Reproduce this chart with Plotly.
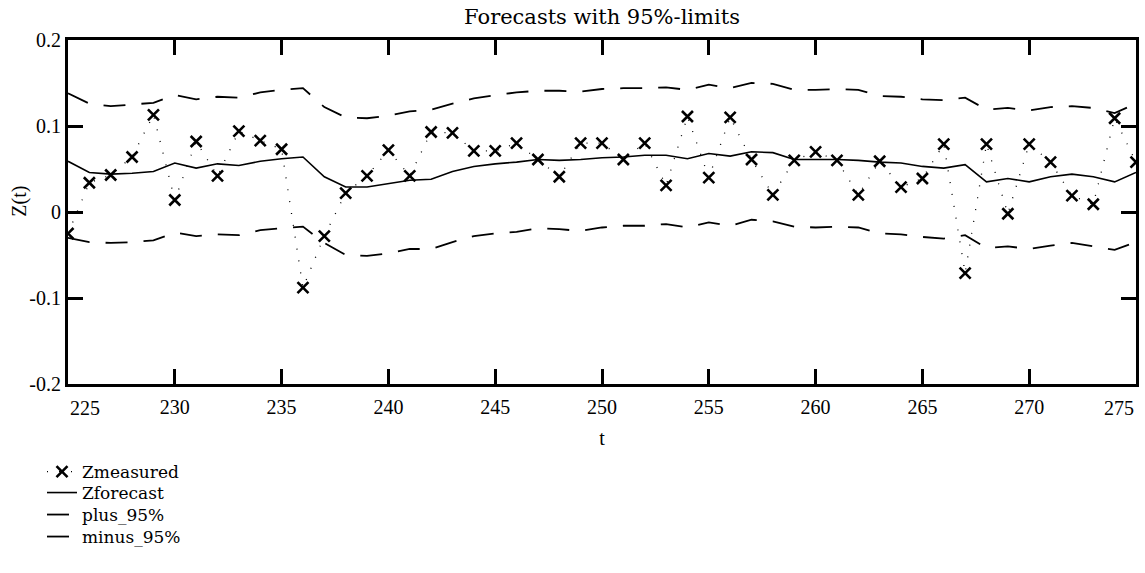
import plotly.graph_objects as go

# time index
t = list(range(225, 276))

z_measured = [
    -0.025, 0.034, 0.043, 0.064, 0.113, 0.014, 0.082, 0.042, 0.094, 0.083,
    0.073, -0.088, -0.028, 0.022, 0.042, 0.072, 0.042, 0.093, 0.092, 0.071,
    0.071, 0.080, 0.061, 0.041, 0.080, 0.080, 0.061, 0.080, 0.031, 0.111,
    0.040, 0.110, 0.061, 0.020, 0.060, 0.070, 0.060, 0.020, 0.059, 0.029,
    0.039, 0.079, -0.071, 0.079, -0.002, 0.079, 0.058, 0.019, 0.009, 0.109,
    0.058,
]

z_forecast = [
    0.059, 0.046, 0.044, 0.045, 0.047, 0.057, 0.051, 0.056, 0.054, 0.059,
    0.062, 0.064, 0.041, 0.029, 0.029, 0.033, 0.037, 0.038, 0.047, 0.053,
    0.056, 0.058, 0.061, 0.060, 0.061, 0.063, 0.064, 0.066, 0.066, 0.062,
    0.068, 0.065, 0.070, 0.069, 0.061, 0.061, 0.061, 0.060, 0.058, 0.057,
    0.053, 0.051, 0.055, 0.035, 0.039, 0.035, 0.041, 0.044, 0.041, 0.035,
    0.046,
]

plus_95 = [
    0.138, 0.126, 0.123, 0.125, 0.127, 0.136, 0.131, 0.134, 0.133, 0.139,
    0.142, 0.144, 0.122, 0.110, 0.109, 0.112, 0.117, 0.119, 0.126, 0.132,
    0.136, 0.139, 0.141, 0.141, 0.140, 0.143, 0.144, 0.144, 0.145, 0.142,
    0.148, 0.144, 0.150, 0.149, 0.142, 0.142, 0.143, 0.142, 0.135, 0.134,
    0.131, 0.130, 0.133, 0.119, 0.121, 0.118, 0.122, 0.123, 0.121, 0.115,
    0.126,
]

minus_95 = [
    -0.030, -0.035, -0.036, -0.035, -0.033, -0.024, -0.028, -0.026, -0.027, -0.021,
    -0.019, -0.017, -0.036, -0.050, -0.051, -0.048, -0.043, -0.043, -0.035, -0.028,
    -0.025, -0.023, -0.019, -0.020, -0.022, -0.018, -0.016, -0.016, -0.014, -0.018,
    -0.012, -0.016, -0.009, -0.011, -0.017, -0.018, -0.017, -0.018, -0.025, -0.026,
    -0.029, -0.031, -0.027, -0.042, -0.040, -0.043, -0.039, -0.036, -0.040, -0.044,
    -0.035,
]

x_ticks = [225, 230, 235, 240, 245, 250, 255, 260, 265, 270, 275]
y_ticks = [-0.2, -0.1, 0, 0.1, 0.2]
y_tick_text = ["-0.2", "-0.1", "0", "0.1", "0.2"]

W, H = 1145, 573
serif = "'Liberation Serif', 'Times New Roman', Times, serif"
wide = "'DejaVu Serif', 'Liberation Serif', serif"
x_range = [x_ticks[0], x_ticks[-1]]
plot_h = H - 40 - 189

fig = go.Figure()

fig.add_trace(go.Scatter(
    x=t, y=z_measured, name="Zmeasured", mode="lines+markers",
    line=dict(color="black", width=1.3, dash="1px,11px"),
    marker=dict(symbol="x-thin", size=11, line=dict(color="black", width=2.6)),
    legend="legend",
))
fig.add_trace(go.Scatter(
    x=t, y=z_forecast, name="Zforecast", mode="lines",
    line=dict(color="black", width=1.6),
    legend="legend2",
))
fig.add_trace(go.Scatter(
    x=t, y=plus_95, name="plus_95%", mode="lines",
    line=dict(color="black", width=1.8, dash="22px,16px"),
    legend="legend3",
))
fig.add_trace(go.Scatter(
    x=t, y=minus_95, name="minus_95%", mode="lines",
    line=dict(color="black", width=1.8, dash="22px,16px"),
    legend="legend4",
))

tick_font = dict(family=serif, size=20, color="black")

axis_common = dict(
    showline=True, linecolor="black", linewidth=3, mirror="ticks",
    ticks="inside", ticklen=15, tickwidth=2.5, tickcolor="black",
    showgrid=False, zeroline=False, automargin=False,
    tickfont=tick_font,
)

# inner x labels come from the axis; the two end labels are pulled inside
# the frame as annotations anchored at their tick values
inner_text = ["" if v in x_range else str(v) for v in x_ticks]
label_y = -(408 - 384) / plot_h
edge_labels = [
    dict(text=str(x_range[0]), x=x_range[0], xanchor="left"),
    dict(text=str(x_range[1]), x=x_range[1], xanchor="right"),
]
annotations = [
    dict(xref="x", yref="paper", y=label_y, yanchor="middle",
         showarrow=False, font=tick_font, **lab)
    for lab in edge_labels
]
annotations.append(dict(
    text="Z(t)", textangle=-90, showarrow=False,
    xref="paper", x=-48 / (W - 68 - 9), xanchor="center",
    yref="paper", y=0.53, yanchor="middle",
    font=dict(family=serif, size=20, color="black"),
))


def legend_row(y_center):
    return dict(
        xref="container", yref="container",
        x=42 / W, xanchor="left",
        y=1 - y_center / H, yanchor="middle",
        bgcolor="rgba(0,0,0,0)", borderwidth=0,
        font=dict(family=wide, size=17, color="black"),
        itemwidth=30,
    )


fig.update_layout(
    width=W, height=H,
    margin=dict(l=68, r=9, t=40, b=189, autoexpand=False),
    paper_bgcolor="white", plot_bgcolor="white",
    title=dict(
        text="Forecasts with 95%-limits",
        x=0.5, xref="paper", xanchor="center",
        y=1 - 17 / H, yanchor="middle",
        font=dict(family=wide, size=21, color="black"),
    ),
    xaxis=dict(
        range=x_range, tickvals=x_ticks, ticktext=inner_text,
        ticklabelstandoff=3,
        title=dict(text="t", font=dict(family=serif, size=20, color="black"), standoff=14),
        **axis_common,
    ),
    yaxis=dict(
        range=[-0.2, 0.2], tickvals=y_ticks, ticktext=y_tick_text,
        **axis_common,
    ),
    annotations=annotations,
    showlegend=True,
    legend=legend_row(472),
    legend2=legend_row(493),
    legend3=legend_row(515),
    legend4=legend_row(537),
)

fig.write_html("out.html")
